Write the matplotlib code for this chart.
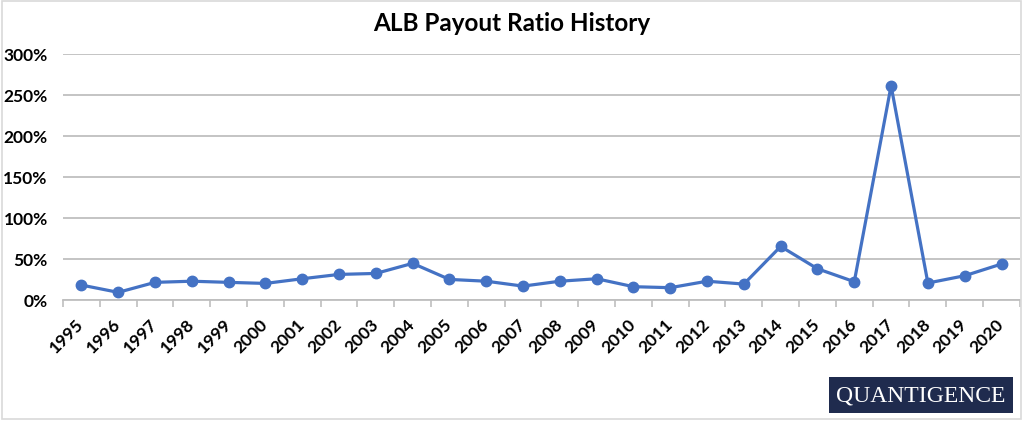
import matplotlib
matplotlib.use("Agg")
import matplotlib.pyplot as plt
from matplotlib.patches import Rectangle
from matplotlib.ticker import FuncFormatter

years = [str(y) for y in range(1995, 2021)]
payout = [18.3, 9.4, 21.6, 23.0, 21.6, 20.3, 26.0, 31.3, 32.5, 44.8,
          25.2, 23.0, 17.0, 23.0, 26.0, 16.3, 15.1, 23.0, 19.5, 65.5,
          38.2, 22.4, 261.7, 20.8, 29.7, 44.0]
yticks = [0, 50, 100, 150, 200, 250, 300]

plt.rcParams['font.family'] = ['Lato', 'DejaVu Sans']

fig = plt.figure(figsize=(10.24, 4.22), dpi=100)
ax = fig.add_axes([0.0615, 0.289, 0.9345, 0.582])

x = list(range(len(years)))
ax.plot(x, payout, color='#4472C4', lw=2.3, marker='o', ms=7.5, zorder=3)

ax.set_xlim(-0.5, len(years) - 0.5)
ax.set_ylim(0, 300)
ax.set_yticks(yticks)
ax.yaxis.set_major_formatter(FuncFormatter(lambda v, p: f"{v:.0f}%"))
ax.grid(axis='y', color='#BFBFBF', lw=1.3)
ax.set_axisbelow(True)

ax.set_xticks(x)
ax.set_xticklabels(years, rotation=45, ha='right', va='center',
                   rotation_mode='anchor', fontsize=12.5, fontweight='bold')
ax.set_xticks([i - 0.5 for i in range(len(years) + 1)], minor=True)
ax.tick_params(axis='x', which='major', length=0, pad=16)
ax.tick_params(axis='x', which='minor', length=5, color='#BFBFBF', width=1.2)
ax.tick_params(axis='y', length=0, pad=11, labelsize=12.5)
for lab in ax.get_yticklabels():
    lab.set_fontweight('bold')

for s in ['top', 'right', 'left']:
    ax.spines[s].set_visible(False)
ax.spines['bottom'].set_color('#BFBFBF')
ax.spines['bottom'].set_linewidth(1.3)

fig.text(0.5, 0.945, 'ALB Payout Ratio History', ha='center', va='center',
         fontsize=17.5, fontweight='bold')

# figure border
fig.patches.append(Rectangle((0.002, 0.008), 0.995, 0.99, transform=fig.transFigure,
                             fill=False, ec='#D9D9D9', lw=1.2))

# logo box
fig.patches.append(Rectangle((829 / 1024, 1 - 413 / 422), 184 / 1024, 36 / 422,
                             transform=fig.transFigure, fc='#1F2B4E', ec='none'))
fig.text(921 / 1024, 1 - 396 / 422, 'QUANTIGENCE', ha='center', va='center',
         color='white', fontsize=17, family=['Liberation Serif', 'DejaVu Serif'])

fig.savefig('out.png', dpi=100)
